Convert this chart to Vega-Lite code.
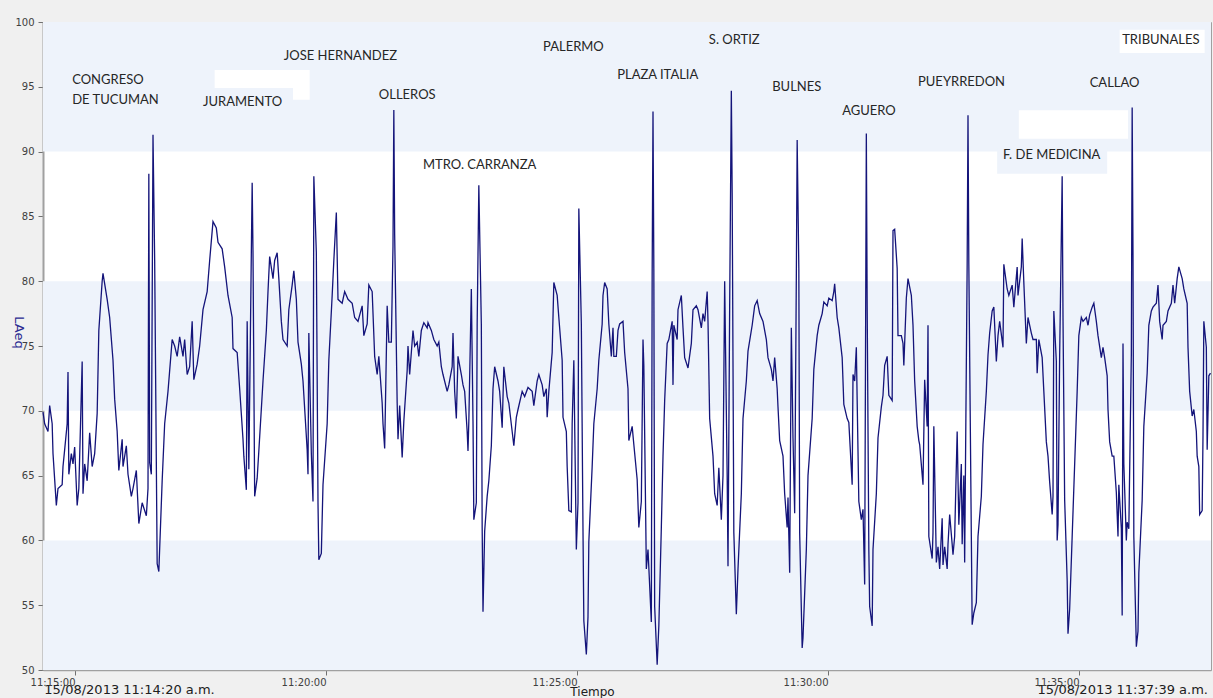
{
  "$schema": "https://vega.github.io/schema/vega-lite/v6.json",
  "width": 1168,
  "height": 648,
  "autosize": {"type": "none"},
  "padding": {"left": 43, "top": 22, "right": 2, "bottom": 28},
  "background": "#f0f0f0",
  "config": {"view": {"fill": "#ffffff", "stroke": "#a0a0a0", "strokeWidth": 1}},
  "datasets": {
    "bands": [{"lo": 50, "hi": 60}, {"lo": 70, "hi": 80}, {"lo": 90, "hi": 100}],
    "whitePatches": [
      {"t0": 206, "t1": 320, "v0": 94.9, "v1": 96.3},
      {"t0": 300, "t1": 320, "v0": 94.0, "v1": 94.9},
      {"t0": 1171, "t1": 1302, "v0": 91.0, "v1": 93.2},
      {"t0": 1292, "t1": 1394, "v0": 97.6, "v1": 99.4}
    ],
    "bluePatches": [{"t0": 1145, "t1": 1277, "v0": 88.3, "v1": 90.3}],
    "stations": [
      {"name": "CONGRESO", "t": 35, "v": 95.5},
      {"name": "DE TUCUMAN", "t": 35, "v": 94.0},
      {"name": "JURAMENTO", "t": 192, "v": 93.8},
      {"name": "JOSE HERNANDEZ", "t": 289, "v": 97.4},
      {"name": "OLLEROS", "t": 403, "v": 94.4},
      {"name": "MTRO. CARRANZA", "t": 456, "v": 89.0},
      {"name": "PALERMO", "t": 600, "v": 98.1},
      {"name": "PLAZA ITALIA", "t": 689, "v": 95.9},
      {"name": "S. ORTIZ", "t": 799, "v": 98.6},
      {"name": "BULNES", "t": 875, "v": 95.0},
      {"name": "AGUERO", "t": 959, "v": 93.1},
      {"name": "PUEYRREDON", "t": 1050, "v": 95.4},
      {"name": "F. DE MEDICINA", "t": 1152, "v": 89.7},
      {"name": "CALLAO", "t": 1256, "v": 95.3},
      {"name": "TRIBUNALES", "t": 1295, "v": 98.6}
    ],
    "stampLeft": [{"label": "15/08/2013 11:14:20 a.m.", "t": 1.5, "v": 50}],
    "stampRight": [{"label": "15/08/2013 11:37:39 a.m.", "t": 1398, "v": 50}],
    "series": [
      {"t":0,"v":69.9},{"t":2,"v":69},{"t":6,"v":68.4},{"t":8,"v":70.4},{"t":11,"v":69},{"t":12,"v":66.7},{"t":16,"v":62.7},{"t":18,"v":64},{"t":23,"v":64.3},{"t":24,"v":65.7},{"t":26,"v":67},{"t":29,"v":69},{"t":30,"v":73},{"t":31,"v":65.1},{"t":34,"v":66.7},{"t":36,"v":65.9},{"t":38,"v":67.2},{"t":41,"v":62.7},{"t":43,"v":64},{"t":47,"v":73.8},{"t":48,"v":63.6},{"t":50,"v":65.9},{"t":53,"v":64.6},{"t":56,"v":68.3},{"t":59,"v":65.7},{"t":62,"v":66.7},{"t":65,"v":69.8},{"t":67,"v":76.2},{"t":71,"v":80},{"t":72,"v":80.6},{"t":77,"v":78.6},{"t":80,"v":77.2},{"t":84,"v":73.9},{"t":86,"v":70.9},{"t":89,"v":68.4},{"t":91,"v":65.4},{"t":95,"v":67.8},{"t":96,"v":65.7},{"t":100,"v":67.3},{"t":102,"v":65.1},{"t":106,"v":63.4},{"t":108,"v":64},{"t":112,"v":65.4},{"t":115,"v":61.3},{"t":119,"v":62.9},{"t":124,"v":61.9},{"t":126,"v":64},{"t":127,"v":88.3},{"t":128,"v":66},{"t":130,"v":65.1},{"t":132,"v":91.3},{"t":134,"v":81.6},{"t":137,"v":58.2},{"t":139,"v":57.6},{"t":143,"v":64.6},{"t":146,"v":69},{"t":150,"v":71.5},{"t":155,"v":75.5},{"t":158,"v":75},{"t":161,"v":74.2},{"t":164,"v":75.7},{"t":168,"v":74.2},{"t":170,"v":75.5},{"t":173,"v":72.8},{"t":176,"v":73.4},{"t":179,"v":76.9},{"t":181,"v":72.4},{"t":185,"v":73.6},{"t":188,"v":75},{"t":192,"v":77.8},{"t":197,"v":79.2},{"t":200,"v":81.6},{"t":204,"v":84.6},{"t":208,"v":84.1},{"t":210,"v":83},{"t":215,"v":82.5},{"t":218,"v":81.1},{"t":222,"v":78.9},{"t":227,"v":77.2},{"t":228,"v":74.8},{"t":233,"v":74.5},{"t":236,"v":71.7},{"t":240,"v":67.8},{"t":241,"v":66.5},{"t":244,"v":63.9},{"t":245,"v":76.9},{"t":247,"v":65.5},{"t":250,"v":82.2},{"t":251,"v":87.6},{"t":252,"v":82.2},{"t":254,"v":63.4},{"t":257,"v":64.8},{"t":259,"v":66.9},{"t":264,"v":72.3},{"t":268,"v":76.2},{"t":270,"v":79.2},{"t":272,"v":81.9},{"t":276,"v":80.2},{"t":278,"v":81.6},{"t":281,"v":82.2},{"t":283,"v":80.2},{"t":286,"v":76.9},{"t":288,"v":75.5},{"t":293,"v":75},{"t":295,"v":77.8},{"t":299,"v":79.7},{"t":301,"v":80.8},{"t":304,"v":78.6},{"t":306,"v":75.3},{"t":310,"v":73.6},{"t":312,"v":72.3},{"t":317,"v":67},{"t":318,"v":65.1},{"t":319,"v":76},{"t":322,"v":66.7},{"t":324,"v":63},{"t":325,"v":88.1},{"t":328,"v":82.2},{"t":330,"v":62.9},{"t":331,"v":58.5},{"t":334,"v":59},{"t":336,"v":64.3},{"t":341,"v":69},{"t":343,"v":73.9},{"t":347,"v":78.9},{"t":349,"v":81.6},{"t":352,"v":85.3},{"t":354,"v":78.6},
      {"t":359,"v":78.3},{"t":362,"v":79.2},{"t":366,"v":78.6},{"t":371,"v":78.3},{"t":374,"v":77.2},{"t":378,"v":76.9},{"t":383,"v":78.1},{"t":385,"v":75.8},{"t":389,"v":76.7},{"t":391,"v":79.7},{"t":395,"v":79.2},{"t":398,"v":74.2},{"t":401,"v":72.8},{"t":403,"v":74.2},{"t":407,"v":70.6},{"t":408,"v":69},{"t":410,"v":67.1},{"t":413,"v":78.1},{"t":415,"v":75.3},{"t":418,"v":75.3},{"t":420,"v":82.7},{"t":421,"v":93.2},{"t":422,"v":83.6},{"t":425,"v":70.6},{"t":426,"v":67.8},{"t":428,"v":70.4},{"t":431,"v":66.4},{"t":433,"v":69.2},{"t":437,"v":73.1},{"t":438,"v":75},{"t":440,"v":72.8},{"t":444,"v":76.2},{"t":446,"v":75},{"t":449,"v":75.3},{"t":451,"v":74.2},{"t":454,"v":76.2},{"t":457,"v":76.8},{"t":461,"v":76.4},{"t":462,"v":76.8},{"t":466,"v":76.2},{"t":469,"v":75.5},{"t":473,"v":75},{"t":475,"v":75.3},{"t":478,"v":73.4},{"t":480,"v":72.8},{"t":485,"v":71.5},{"t":487,"v":72},{"t":491,"v":73.4},{"t":492,"v":76},{"t":494,"v":71.5},{"t":496,"v":69.4},{"t":498,"v":74.2},{"t":502,"v":72.8},{"t":504,"v":72},{"t":506,"v":71.5},{"t":509,"v":68.4},{"t":510,"v":66.9},{"t":511,"v":69.2},{"t":514,"v":79.4},{"t":516,"v":69.2},{"t":517,"v":61.6},{"t":520,"v":62.9},{"t":521,"v":76.7},{"t":523,"v":87.4},{"t":526,"v":76.7},{"t":527,"v":61},{"t":528,"v":54.5},{"t":530,"v":60.7},{"t":533,"v":63.4},{"t":535,"v":64.6},{"t":538,"v":67.3},{"t":540,"v":71.7},{"t":542,"v":73.4},{"t":546,"v":72.3},{"t":548,"v":71.5},{"t":551,"v":68.7},{"t":553,"v":73.4},{"t":557,"v":71.1},{"t":559,"v":70.6},{"t":563,"v":68.4},{"t":565,"v":67.3},{"t":568,"v":69.5},{"t":570,"v":70.1},{"t":575,"v":71.5},{"t":578,"v":71.1},{"t":582,"v":71.8},{"t":587,"v":71.5},{"t":589,"v":70.4},{"t":593,"v":72.3},{"t":595,"v":72.8},{"t":599,"v":72},{"t":601,"v":71.1},{"t":604,"v":71.7},{"t":605,"v":69.5},{"t":607,"v":71.5},{"t":611,"v":74.5},{"t":613,"v":79.9},{"t":617,"v":78.9},{"t":619,"v":77.2},{"t":623,"v":73.9},{"t":624,"v":69.5},{"t":628,"v":68.4},{"t":629,"v":65.7},{"t":631,"v":62.3},{"t":634,"v":62.2},{"t":635,"v":69},{"t":637,"v":73.9},{"t":640,"v":59.3},{"t":642,"v":62.9},{"t":643,"v":85.6},{"t":646,"v":76.7},{"t":648,"v":60.7},{"t":649,"v":53.8},{"t":652,"v":51.2},{"t":654,"v":54.1},{"t":655,"v":59.9},{"t":659,"v":65.7},{"t":661,"v":69},{"t":665,"v":71.7},{"t":667,"v":73.9},{"t":671,"v":76.7},{"t":672,"v":78.9},{"t":674,"v":79.9},{"t":677,"v":79.4},{"t":679,"v":76.7},{"t":682,"v":74.2},{"t":684,"v":76.4},{"t":685,"v":74.2},{"t":688,"v":74.2},{"t":690,"v":76.2},{"t":692,"v":76.7},{"t":696,"v":76.9},{"t":698,"v":74.5},{"t":702,"v":71.7},{"t":703,"v":67.7},
      {"t":707,"v":68.8},{"t":709,"v":67.4},{"t":713,"v":64.7},{"t":715,"v":61},{"t":718,"v":63},{"t":720,"v":75.5},{"t":721,"v":73.5},{"t":724,"v":57.8},{"t":726,"v":59.3},{"t":730,"v":53.7},{"t":731,"v":80.7},{"t":732,"v":93.1},{"t":733,"v":81},{"t":734,"v":54.9},{"t":737,"v":50.4},{"t":739,"v":53.4},{"t":742,"v":61},{"t":744,"v":66.5},{"t":746,"v":70.8},{"t":749,"v":75.2},{"t":751,"v":75.5},{"t":755,"v":76.9},{"t":756,"v":72},{"t":757,"v":76.6},{"t":761,"v":75.5},{"t":762,"v":77.8},{"t":766,"v":78.9},{"t":768,"v":76.4},{"t":770,"v":74.1},{"t":774,"v":73.3},{"t":778,"v":75.2},{"t":780,"v":77.8},{"t":784,"v":78.1},{"t":786,"v":77.8},{"t":790,"v":76.4},{"t":792,"v":77.5},{"t":794,"v":76.9},{"t":797,"v":79.2},{"t":798,"v":76.9},{"t":800,"v":69.4},{"t":804,"v":66.5},{"t":806,"v":63.6},{"t":809,"v":62.7},{"t":811,"v":65.6},{"t":814,"v":61.6},{"t":816,"v":65},{"t":818,"v":80},{"t":821,"v":65},{"t":822,"v":58},{"t":824,"v":78.1},{"t":826,"v":94.7},{"t":827,"v":86.8},{"t":829,"v":60.6},{"t":832,"v":54.3},{"t":834,"v":57.8},{"t":838,"v":63.6},{"t":840,"v":69.4},{"t":844,"v":72.3},{"t":846,"v":74.6},{"t":851,"v":76.6},{"t":854,"v":78.1},{"t":857,"v":78.5},{"t":860,"v":77.5},{"t":864,"v":76.9},{"t":868,"v":75.5},{"t":870,"v":74.1},{"t":874,"v":73.2},{"t":876,"v":72.3},{"t":878,"v":74.1},{"t":881,"v":71.7},{"t":882,"v":70.3},{"t":884,"v":67.7},{"t":888,"v":66.5},{"t":890,"v":63.6},{"t":893,"v":61},{"t":894,"v":63.3},{"t":896,"v":57.5},{"t":898,"v":76.4},{"t":900,"v":67.9},{"t":902,"v":62.1},{"t":904,"v":80.4},{"t":905,"v":90.9},{"t":907,"v":81},{"t":908,"v":60.6},{"t":911,"v":51.7},{"t":912,"v":52.5},{"t":916,"v":59.3},{"t":918,"v":65},{"t":923,"v":69.4},{"t":925,"v":73.2},{"t":929,"v":75.8},{"t":931,"v":76.6},{"t":935,"v":77.5},{"t":937,"v":78.4},{"t":941,"v":78.1},{"t":943,"v":78.7},{"t":947,"v":78.5},{"t":949,"v":79.2},{"t":950,"v":79.8},{"t":953,"v":77.2},{"t":955,"v":76.4},{"t":959,"v":74.1},{"t":961,"v":70.5},{"t":965,"v":69.4},{"t":967,"v":69.1},{"t":971,"v":64.3},{"t":972,"v":72.8},{"t":974,"v":72.3},{"t":976,"v":74.9},{"t":977,"v":70.8},{"t":979,"v":63},{"t":982,"v":61.6},{"t":984,"v":62.4},{"t":986,"v":56.6},{"t":988,"v":91.4},{"t":989,"v":78.1},{"t":991,"v":59.3},{"t":992,"v":54.9},{"t":995,"v":53.4},{"t":996,"v":59.3},{"t":1000,"v":63.6},{"t":1002,"v":67.9},{"t":1006,"v":70.3},{"t":1008,"v":71.2},{"t":1010,"v":73.5},{"t":1013,"v":74.2},{"t":1015,"v":71.2},{"t":1019,"v":70.8},{"t":1020,"v":83.9},{"t":1022,"v":84},{"t":1025,"v":81},{"t":1026,"v":75.8},{"t":1030,"v":75.8},{"t":1032,"v":75.2},{"t":1033,"v":73.5},{"t":1036,"v":78.7},{"t":1038,"v":80.2},{"t":1042,"v":78.9},{"t":1044,"v":76.6},{"t":1046,"v":72.3},{"t":1049,"v":68.8},{"t":1051,"v":67.7},
      {"t":1052,"v":67.4},{"t":1056,"v":64.3},{"t":1058,"v":72.4},{"t":1061,"v":68.8},{"t":1062,"v":76.6},{"t":1063,"v":60.3},{"t":1067,"v":58.6},{"t":1068,"v":60.6},{"t":1069,"v":68.8},{"t":1072,"v":58.3},{"t":1074,"v":59.5},{"t":1076,"v":57.8},{"t":1079,"v":61.7},{"t":1080,"v":58.1},{"t":1082,"v":59.5},{"t":1085,"v":57.8},{"t":1086,"v":59.7},{"t":1088,"v":62},{"t":1091,"v":59.7},{"t":1092,"v":58.9},{"t":1094,"v":60.3},{"t":1097,"v":68.4},{"t":1099,"v":61.2},{"t":1102,"v":65.9},{"t":1103,"v":59.7},{"t":1105,"v":65},{"t":1106,"v":58.3},{"t":1109,"v":81.3},{"t":1110,"v":92.8},{"t":1111,"v":81.3},{"t":1114,"v":60.3},{"t":1115,"v":53.5},{"t":1117,"v":54.4},{"t":1120,"v":55.2},{"t":1122,"v":60.3},{"t":1126,"v":63.4},{"t":1128,"v":67.4},{"t":1132,"v":71.5},{"t":1134,"v":74.3},{"t":1136,"v":76},{"t":1139,"v":77.7},{"t":1141,"v":78},{"t":1144,"v":73.8},{"t":1146,"v":75.8},{"t":1148,"v":76.9},{"t":1152,"v":74.9},{"t":1153,"v":81.3},{"t":1157,"v":79.4},{"t":1159,"v":78.9},{"t":1163,"v":79.7},{"t":1165,"v":78},{"t":1169,"v":81.1},{"t":1170,"v":78.9},{"t":1174,"v":81.1},{"t":1175,"v":83.3},{"t":1177,"v":79.9},{"t":1180,"v":75.2},{"t":1182,"v":77.2},{"t":1186,"v":76},{"t":1188,"v":75.5},{"t":1192,"v":75.5},{"t":1193,"v":72.9},{"t":1195,"v":75.5},{"t":1199,"v":74.1},{"t":1201,"v":71.5},{"t":1204,"v":67.6},{"t":1206,"v":66.5},{"t":1208,"v":64.5},{"t":1211,"v":62},{"t":1212,"v":63.4},{"t":1213,"v":77.7},{"t":1216,"v":73.8},{"t":1217,"v":60},{"t":1218,"v":61.2},{"t":1220,"v":74.3},{"t":1223,"v":88.1},{"t":1224,"v":77.2},{"t":1226,"v":63.1},{"t":1229,"v":56.9},{"t":1230,"v":52.8},{"t":1232,"v":54.7},{"t":1235,"v":60.3},{"t":1238,"v":65.9},{"t":1241,"v":71.5},{"t":1243,"v":75.8},{"t":1246,"v":77.2},{"t":1248,"v":76.9},{"t":1252,"v":77.2},{"t":1254,"v":76.6},{"t":1256,"v":77.4},{"t":1259,"v":78},{"t":1261,"v":78.3},{"t":1264,"v":76.9},{"t":1266,"v":75.8},{"t":1270,"v":74.1},{"t":1272,"v":74.9},{"t":1274,"v":74.1},{"t":1277,"v":72.7},{"t":1278,"v":70.1},{"t":1280,"v":67.6},{"t":1283,"v":66.5},{"t":1285,"v":66.5},{"t":1288,"v":63.7},{"t":1290,"v":60.3},{"t":1291,"v":64.3},{"t":1294,"v":60.9},{"t":1295,"v":54.2},{"t":1296,"v":75.2},{"t":1297,"v":65.9},{"t":1300,"v":60},{"t":1301,"v":61.4},{"t":1303,"v":60.9},{"t":1306,"v":74.3},{"t":1307,"v":93.4},{"t":1308,"v":81.9},{"t":1309,"v":60.3},{"t":1312,"v":51.8},{"t":1314,"v":53},{"t":1315,"v":57.5},{"t":1319,"v":63.1},{"t":1321,"v":68.8},{"t":1325,"v":72.9},{"t":1327,"v":76.6},{"t":1330,"v":77.7},{"t":1332,"v":78},{"t":1336,"v":78.3},{"t":1338,"v":79.7},{"t":1340,"v":76.9},{"t":1343,"v":75.5},{"t":1344,"v":76.6},{"t":1348,"v":76.9},{"t":1350,"v":77.7},{"t":1354,"v":78.3},{"t":1356,"v":79.7},{"t":1358,"v":78.3},{"t":1361,"v":80.2},{"t":1363,"v":81.1},{"t":1367,"v":80.2},{"t":1369,"v":79.4},{"t":1373,"v":78.3},{"t":1374,"v":74.9},{"t":1376,"v":71.5},{"t":1379,"v":69.6},{"t":1381,"v":70.1},{"t":1384,"v":68.4},{"t":1385,"v":66.5},{"t":1387,"v":65.7},{"t":1388,"v":62},{"t":1391,"v":62.3},{"t":1392,"v":68.1},{"t":1393,"v":76.9},{"t":1396,"v":74.9},{"t":1397,"v":67},{"t":1399,"v":72.7},{"t":1401,"v":72.9}
    ]
  },
  "layer": [
    {
      "data": {"name": "bands"},
      "mark": {"type": "rect", "color": "#eef3fb"},
      "encoding": {
        "y": {
          "field": "lo", "type": "quantitative", "title": "LAeq",
          "scale": {"domain": [50, 100], "nice": false, "zero": false},
          "axis": {
            "values": [50, 55, 60, 65, 70, 75, 80, 85, 90, 95, 100],
            "grid": false, "labelFont": "DejaVu Sans", "labelFontSize": 10, "labelColor": "#404040",
            "labelPadding": 4, "tickColor": "#707070", "tickSize": 5,
            "domainColor": "#a0a0a0", "domainWidth": 2,
            "title": "LAeq", "titleAngle": 90, "titleColor": "#2a2a90", "titleFont": "DejaVu Sans",
            "titleFontSize": 13, "titleFontWeight": "normal", "titleX": -25, "titleY": 310,
            "titleAlign": "center", "titleBaseline": "middle"
          }
        },
        "y2": {"field": "hi"}
      }
    },
    {
      "data": {"name": "whitePatches"},
      "mark": {"type": "rect", "color": "#ffffff"},
      "encoding": {
        "x": {
          "field": "t0", "type": "quantitative", "title": "Tiempo",
          "scale": {"domain": [0, 1401.6], "nice": false, "zero": false},
          "axis": {
            "values": [38.4, 339.6, 640.8, 942, 1243.2],
            "labelExpr": "['11:15:00','11:20:00','11:25:00','11:30:00','11:35:00'][round((datum.value-38.4)/301.2)]",
            "grid": false, "labelAlign": "right", "labelBaseline": "top", "labelPadding": 2,
            "labelFont": "DejaVu Sans", "labelFontSize": 10, "labelColor": "#404040",
            "tickColor": "#707070", "tickSize": 5, "domainColor": "#a0a0a0", "domainWidth": 1.5,
            "title": "Tiempo", "titleFont": "DejaVu Sans", "titleFontSize": 12, "titleFontWeight": "normal",
            "titleColor": "#202020", "titleX": 549, "titleY": 21, "titleBaseline": "middle", "titleAlign": "center"
          }
        },
        "x2": {"field": "t1"},
        "y": {"field": "v0", "type": "quantitative", "title": "LAeq"},
        "y2": {"field": "v1"}
      }
    },
    {
      "data": {"name": "bluePatches"},
      "mark": {"type": "rect", "color": "#eef3fb"},
      "encoding": {
        "x": {"field": "t0", "type": "quantitative", "title": "Tiempo"},
        "x2": {"field": "t1"},
        "y": {"field": "v0", "type": "quantitative", "title": "LAeq"},
        "y2": {"field": "v1"}
      }
    },
    {
      "data": {"name": "series"},
      "mark": {"type": "line", "color": "#14147a", "strokeWidth": 1.3, "interpolate": "linear"},
      "encoding": {
        "x": {"field": "t", "type": "quantitative", "title": "Tiempo"},
        "y": {"field": "v", "type": "quantitative", "title": "LAeq"}
      }
    },
    {
      "data": {"name": "stations"},
      "mark": {"type": "text", "align": "left", "baseline": "middle", "font": "Lato", "fontSize": 13, "color": "#262626"},
      "encoding": {
        "x": {"field": "t", "type": "quantitative", "title": "Tiempo"},
        "y": {"field": "v", "type": "quantitative", "title": "LAeq"},
        "text": {"field": "name"}
      }
    },
    {
      "data": {"name": "stampLeft"},
      "mark": {"type": "text", "align": "left", "baseline": "middle", "dy": 20, "font": "DejaVu Sans", "fontSize": 13, "color": "#202020"},
      "encoding": {
        "x": {"field": "t", "type": "quantitative", "title": "Tiempo"},
        "y": {"field": "v", "type": "quantitative", "title": "LAeq"},
        "text": {"field": "label"}
      }
    },
    {
      "data": {"name": "stampRight"},
      "mark": {"type": "text", "align": "right", "baseline": "middle", "dy": 20, "font": "DejaVu Sans", "fontSize": 13, "color": "#202020"},
      "encoding": {
        "x": {"field": "t", "type": "quantitative", "title": "Tiempo"},
        "y": {"field": "v", "type": "quantitative", "title": "LAeq"},
        "text": {"field": "label"}
      }
    }
  ]
}
